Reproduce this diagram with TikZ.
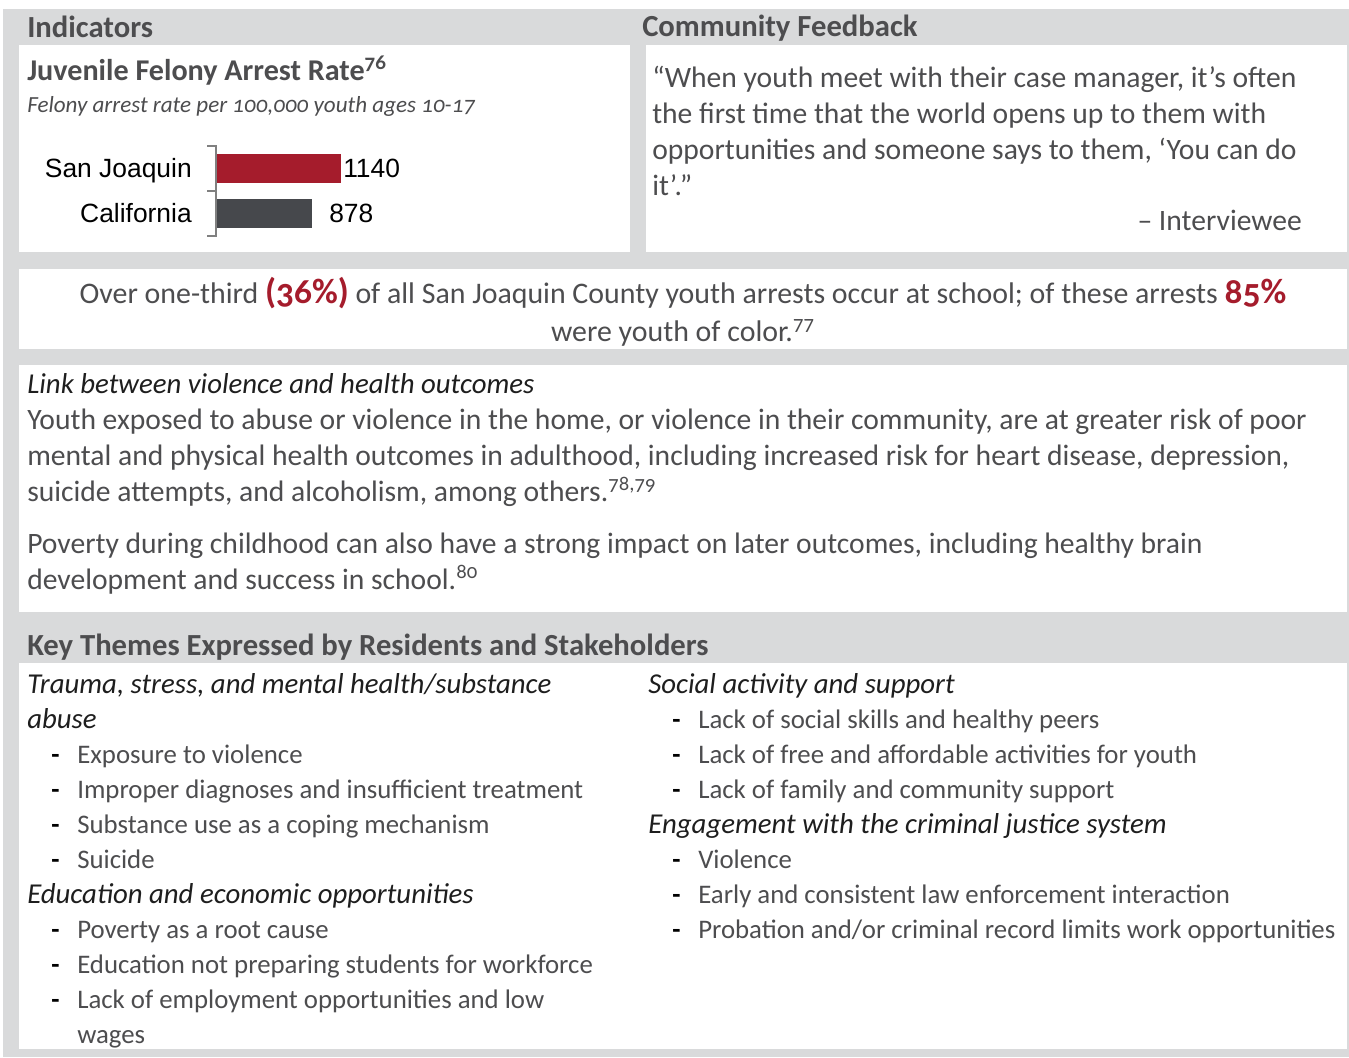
\documentclass[tikz,border=0pt]{standalone}
\usepackage{fontspec}
\setmainfont{Carlito}[Numbers=OldStyle]
\newfontfamily\chartfont{Liberation Sans}
\definecolor{bggray}{HTML}{D9DADB}
\definecolor{txtgray}{HTML}{4D4D4F}
\definecolor{inkdark}{HTML}{1E1E1E}
\definecolor{barred}{HTML}{A51C2C}
\definecolor{bardark}{HTML}{46484C}
\newcommand{\redstat}[1]{{\color{barred}\bfseries\fontsize{26.5}{28.5}\selectfont #1}}
\tikzset{
    panel/.style={fill=white},
    head/.style={anchor=base west, inner sep=0pt, text=txtgray, font=\fontsize{23}{26}\selectfont\bfseries},
    body/.style={anchor=base west, inner sep=0pt, text=txtgray, align=left, font=\fontsize{22.2}{27}\selectfont},
    theme/.style={body, text=inkdark, font=\fontsize{21.6}{26.25}\selectfont\itshape},
    item/.style={body, font=\fontsize{20.1}{26.25}\selectfont},
    dashmark/.style={anchor=base west, inner sep=0pt, text=black, font=\fontsize{20.1}{26.25}\selectfont\bfseries},
    barlabel/.style={inner sep=0pt, text=black, font=\chartfont\fontsize{19.8}{22}\selectfont}
}
\begin{document}
\begin{tikzpicture}[x=0.75pt, y=-0.75pt]
\useasboundingbox (0,0) rectangle (1349,1057);
\fill[white] (0,0) rectangle (1349,1057);
\fill[bggray] (3,9) rectangle (1349,1057);
% white panels
\fill[panel] (19,45) rectangle (630,252);
\fill[panel] (646,45) rectangle (1347,252);
\fill[panel] (19,269) rectangle (1347,349);
\fill[panel] (19,365) rectangle (1347,612);
\fill[panel] (19,663) rectangle (1347,1049);

% indicators
\node[head] (ind) at (27,37) {Indicators};
\node[head, font=\fontsize{22.6}{26}\selectfont\bfseries] (rate) at (27,80) {Juvenile Felony Arrest Rate\textsuperscript{76}};
\node[body, font=\fontsize{17.3}{20}\selectfont\itshape] (ratesub) at (27,112) {Felony arrest rate per 100,000 youth ages 10-17};
\draw[gray, line width=0.9pt] (207,146) -- (216,146) -- (216,236) -- (207,236) (207,191) -- (216,191);
\fill[barred] (217,154) rectangle (341,183);
\fill[bardark] (217,199) rectangle (312,228);
\node[barlabel, anchor=base east] (sj) at (192,177) {San Joaquin};
\node[barlabel, anchor=base east] (ca) at (192,222) {California};
\node[barlabel, anchor=base west] (sjval) at (343,177) {1140};
\node[barlabel, anchor=base west] (caval) at (329,222) {878};

% community feedback (multi-line nodes sit on their last baseline)
\node[head] (cf) at (642,36) {Community Feedback};
\node[body] (quote) at (652,195) {“When youth meet with their case manager, it’s often\\the first time that the world opens up to them with\\opportunities and someone says to them, ‘You can do\\it’.”};
\node[body, anchor=base east] (who) at (1302,230) {– Interviewee};

% school arrests
\node[body, anchor=base, align=center, font=\fontsize{22.4}{28.5}\selectfont] (stat) at (683,341) {Over one-third \redstat{(36\%)} of all San Joaquin County youth arrests occur at school; of these arrests \redstat{85\%}\\were youth of color.\textsuperscript{77}};

% violence and health
\node[theme, font=\fontsize{21.6}{27}\selectfont\itshape] (link) at (27,393) {Link between violence and health outcomes};
\node[body] (para1) at (27,501) {Youth exposed to abuse or violence in the home, or violence in their community, are at greater risk of poor\\mental and physical health outcomes in adulthood, including increased risk for heart disease, depression,\\suicide attempts, and alcoholism, among others.\textsuperscript{78,79}};
\node[body] (para2) at (27,589) {Poverty during childhood can also have a strong impact on later outcomes, including healthy brain\\development and success in school.\textsuperscript{80}};

% key themes
\node[head] (kt) at (27,655) {Key Themes Expressed by Residents and Stakeholders};
\node[theme] (trauma) at (27,728) {Trauma, stress, and mental health/substance\\abuse};
\foreach \t [count=\k] in {Exposure to violence, Improper diagnoses and insufficient treatment, Substance use as a coping mechanism, Suicide}{
    \node[dashmark] (traumad\k) at (51,{728+35*\k}) {-};
    \node[item] (trauma\k) at (77,{728+35*\k}) {\t};
}
\node[theme] (edu) at (27,903) {Education and economic opportunities};
\foreach \t [count=\k] in {Poverty as a root cause, Education not preparing students for workforce}{
    \node[dashmark] (edud\k) at (51,{903+35*\k}) {-};
    \node[item] (edu\k) at (77,{903+35*\k}) {\t};
}
\node[dashmark] (edud3) at (51,1008) {-};
\node[item] (edu3) at (77,1043) {Lack of employment opportunities and low\\wages};
%\node[item] (edu4) at (77,1078) {...};
\node[theme] (social) at (648,693) {Social activity and support};
\foreach \t [count=\k] in {Lack of social skills and healthy peers, Lack of free and affordable activities for youth, Lack of family and community support}{
    \node[dashmark] (sociald\k) at (672,{693+35*\k}) {-};
    \node[item] (social\k) at (698,{693+35*\k}) {\t};
}
\node[theme] (cjs) at (648,833) {Engagement with the criminal justice system};
\foreach \t [count=\k] in {Violence, Early and consistent law enforcement interaction, Probation and/or criminal record limits work opportunities}{
    \node[dashmark] (cjsd\k) at (672,{833+35*\k}) {-};
    \node[item] (cjs\k) at (698,{833+35*\k}) {\t};
}
\end{tikzpicture}
\end{document}
